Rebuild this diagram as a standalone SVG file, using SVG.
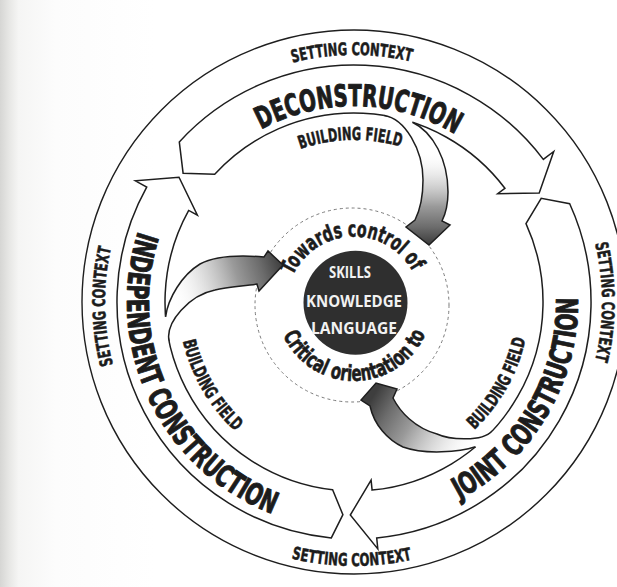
<svg xmlns="http://www.w3.org/2000/svg" xmlns:xlink="http://www.w3.org/1999/xlink" width="617" height="587" viewBox="0 0 617 587">
  <style>
    .band { fill: #ffffff; stroke: #1e1e1e; stroke-width: 1.5; stroke-linejoin: miter; }
    .edge { fill: none; stroke: #1e1e1e; stroke-width: 1.5; stroke-linejoin: miter; }
    .fillw { fill: #ffffff; stroke: none; }
    .ring { fill: none; stroke: #1e1e1e; stroke-width: 1.4; }
    .cond { font-family: "Liberation Sans Narrow", "DejaVu Sans Condensed", "Liberation Sans", sans-serif; font-weight: bold; fill: #1c1c1c; stroke: #1c1c1c; stroke-linejoin: round; }
    .ctx { font-size: 17.5px; stroke-width: 0.5; }
    .stage { font-size: 30px; stroke-width: 1; }
    .field { font-size: 18px; stroke-width: 0.5; }
    .orient { font-size: 22px; stroke-width: 0.6; }
    .core-label { font-family: "Open Sans", "DejaVu Sans", sans-serif; font-weight: bold; font-size: 16px; fill: #f2f2f2; text-anchor: middle; }
  </style>
  <defs>
    <linearGradient id="page" x1="0" y1="0" x2="1" y2="0">
      <stop offset="0" stop-color="#d6d6d4"/>
      <stop offset="0.014" stop-color="#e6e6e4"/>
      <stop offset="0.03" stop-color="#f5f5f4"/>
      <stop offset="0.09" stop-color="#fcfcfc"/>
      <stop offset="0.25" stop-color="#ffffff"/>
      <stop offset="1" stop-color="#ffffff"/>
    </linearGradient>
    <linearGradient id="g-decon" gradientUnits="userSpaceOnUse" x1="430" y1="150" x2="430" y2="244">
      <stop offset="0" stop-color="#ffffff" stop-opacity="0"/>
      <stop offset="0.3" stop-color="#d6d6d6" stop-opacity="0.7"/>
      <stop offset="0.6" stop-color="#9a9a9a"/>
      <stop offset="0.82" stop-color="#6c6c6c"/>
      <stop offset="1" stop-color="#3e3e3e"/>
    </linearGradient>
    <linearGradient id="g-joint" gradientUnits="userSpaceOnUse" x1="478" y1="448" x2="378" y2="388">
      <stop offset="0" stop-color="#ffffff" stop-opacity="0"/>
      <stop offset="0.3" stop-color="#d6d6d6" stop-opacity="0.7"/>
      <stop offset="0.6" stop-color="#9a9a9a"/>
      <stop offset="0.82" stop-color="#6c6c6c"/>
      <stop offset="1" stop-color="#3e3e3e"/>
    </linearGradient>
    <linearGradient id="g-indep" gradientUnits="userSpaceOnUse" x1="172" y1="302" x2="282" y2="265">
      <stop offset="0" stop-color="#ffffff" stop-opacity="0"/>
      <stop offset="0.3" stop-color="#d6d6d6" stop-opacity="0.7"/>
      <stop offset="0.6" stop-color="#9a9a9a"/>
      <stop offset="0.82" stop-color="#6c6c6c"/>
      <stop offset="1" stop-color="#3e3e3e"/>
    </linearGradient>

    <!-- baselines for curved labels, all around the centre (354,302) -->
    <path id="p-ctx-top" d="M139.0,180.4 A247,247 0 0 1 566.8,176.6"/>
    <path id="p-ctx-right" d="M478,87.2 A248,248 0 0 1 478,516.8"/>
    <path id="p-ctx-left" d="M233.3,519.8 A249,249 0 0 1 225.8,88.6"/>
    <path id="p-ctx-bottom" d="M124.2,432 A264,264 0 0 0 581.5,436"/>
    <path id="p-decon" d="M186.7,199.9 A196,196 0 0 1 526.1,208.2"/>
    <path id="p-joint" d="M352.4,526 A224,224 0 0 0 548.8,191.4"/>
    <path id="p-indep" d="M167.3,172.9 A227,227 0 0 0 335.6,528.3"/>
    <path id="p-bf-top" d="M211.9,224.2 A162,162 0 0 1 492.4,217.8"/>
    <path id="p-bf-left" d="M201.7,214.8 A175.5,175.5 0 0 0 354.6,477.5"/>
    <path id="p-bf-right" d="M355.5,477.5 A175.5,175.5 0 0 0 505.2,212.9"/>
    <path id="p-towards" d="M297,339 A67,67 0 1 1 413,335"/>
    <path id="p-critical" d="M286.1,264.6 A78,78 0 1 0 421.2,263.4"/>
  </defs>

  <!-- paper -->
  <rect x="0" y="0" width="617" height="587" fill="url(#page)"/>

  <!-- outer ring: setting context -->
  <g id="setting-context">
    <circle class="ring" cx="354" cy="302" r="272"/>
    <text class="cond ctx" text-anchor="middle"><textPath href="#p-ctx-top" startOffset="50%" textLength="120" lengthAdjust="spacingAndGlyphs">SETTING CONTEXT</textPath></text>
    <text class="cond ctx" text-anchor="middle"><textPath href="#p-ctx-right" startOffset="50%" textLength="118" lengthAdjust="spacingAndGlyphs">SETTING CONTEXT</textPath></text>
    <text class="cond ctx" text-anchor="middle"><textPath href="#p-ctx-left" startOffset="50%" textLength="118" lengthAdjust="spacingAndGlyphs">SETTING CONTEXT</textPath></text>
    <text class="cond ctx" text-anchor="middle"><textPath href="#p-ctx-bottom" startOffset="50%" textLength="122" lengthAdjust="spacingAndGlyphs">SETTING CONTEXT</textPath></text>
  </g>

  <!-- centre -->
  <g id="core">
    <circle cx="352" cy="305" r="97" fill="none" stroke="#7a7a7a" stroke-width="1" stroke-dasharray="3 3"/>
    <circle cx="355.5" cy="302.7" r="52" fill="#2f2f2f"/>
    <text class="core-label" x="350" y="278" textLength="42" lengthAdjust="spacingAndGlyphs">SKILLS</text>
    <text class="core-label" x="354" y="307" textLength="96" lengthAdjust="spacingAndGlyphs">KNOWLEDGE</text>
    <text class="core-label" x="354" y="334" textLength="86" lengthAdjust="spacingAndGlyphs">LANGUAGE</text>
    <text class="cond orient" text-anchor="middle"><textPath href="#p-towards" startOffset="50%" textLength="148" lengthAdjust="spacingAndGlyphs">Towards control of</textPath></text>
    <text class="cond orient" text-anchor="middle"><textPath href="#p-critical" startOffset="50%" textLength="180" lengthAdjust="spacingAndGlyphs">Critical orientation to</textPath></text>
  </g>

  <!-- stage arrows -->
  <g id="deconstruction">
    <path class="band" d="M179.3,141.9 A237,237 0 0 1 543.3,159.4 L553.7,151.5 L539.2,192.9 L497.7,193.7 L504.9,188.3 A189,189 0 0 0 214.7,174.3 L183.1,173.2 Z"/>
    <text class="cond stage" text-anchor="middle"><textPath href="#p-decon" startOffset="50%" textLength="203" lengthAdjust="spacingAndGlyphs">DECONSTRUCTION</textPath></text>
  </g>
  <g id="joint-construction">
    <path class="band" d="M569.7,203.7 A237,237 0 0 1 376.7,537.9 L377.8,548.9 L350.3,515 L371.1,480.2 L372.1,490.1 A189,189 0 0 0 526,223.6 L541.2,198.3 Z"/>
    <text class="cond stage" text-anchor="middle"><textPath href="#p-joint" startOffset="50%" textLength="246" lengthAdjust="spacingAndGlyphs">JOINT CONSTRUCTION</textPath></text>
  </g>
  <g id="independent-construction">
    <path class="band" d="M331.3,537.9 A237,237 0 0 1 146.7,187.1 L135.4,180.8 L179,177.2 L197.4,215.2 L188.7,210.4 A189,189 0 0 0 332.6,489.8 L342.9,514.7 Z"/>
    <text class="cond stage" text-anchor="middle"><textPath href="#p-indep" startOffset="50%" textLength="345" lengthAdjust="spacingAndGlyphs">INDEPENDENT CONSTRUCTION</textPath></text>
  </g>

  <!-- building-field arrows peeling off each stage towards the centre -->
  <g id="connectors">
    <g id="field-decon">
      <path class="fillw" d="M412.4,122.2 C433,132 448,160 448,192 C448,203 446,213 442,221 L450,225 L429,245 L406,227 L415,220 C420,210 423,195 423,180 C423,150 405.3,118.7 383.6,115.3 L384.2,111.4 A193,193 0 0 1 413.6,118.4 Z"/>
      <path fill="url(#g-decon)" d="M412.4,122.2 C433,132 448,160 448,192 C448,203 446,213 442,221 L450,225 L429,245 L406,227 L415,220 C420,210 423,195 423,180 C423,150 405.3,118.7 383.6,115.3 Z"/>
      <path class="edge" d="M412.4,122.2 C433,132 448,160 448,192 C448,203 446,213 442,221 L450,225 L429,245 L406,227 L415,220 C420,210 423,195 423,180 C423,150 405.3,118.7 383.6,115.3"/>
      <text class="cond field" text-anchor="middle"><textPath href="#p-bf-top" startOffset="50%" textLength="102" lengthAdjust="spacingAndGlyphs">BUILDING FIELD</textPath></text>
    </g>
    <g id="field-joint">
      <path class="fillw" d="M475.5,446.8 C460,452 425,455 403,447 C388,440 374,425 370,406 L361,400 L376,383 L397,389 L393,398 C400,412 415,428 437,434 C450,440 482,441.9 492.2,430.9 L495.2,433.6 A193,193 0 0 1 478.1,449.8 Z"/>
      <path fill="url(#g-joint)" d="M475.5,446.8 C460,452 425,455 403,447 C388,440 374,425 370,406 L361,400 L376,383 L397,389 L393,398 C400,412 415,428 437,434 C450,440 482,441.9 492.2,430.9 Z"/>
      <path class="edge" d="M475.5,446.8 C460,452 425,455 403,447 C388,440 374,425 370,406 L361,400 L376,383 L397,389 L393,398 C400,412 415,428 437,434 C450,440 482,441.9 492.2,430.9"/>
      <text class="cond field" text-anchor="middle"><textPath href="#p-bf-right" startOffset="50%" textLength="106" lengthAdjust="spacingAndGlyphs">BUILDING FIELD</textPath></text>
    </g>
    <g id="field-indep">
      <path class="fillw" d="M165.6,316.8 C168,298 182,275 200,264 C215,256 240,255 264,257 L268,251 L283,265 L259,291 L257,284 C245,286 228,287 215,290 C190,295 165,321.7 169.1,341.3 L165.2,342.1 A193,193 0 0 1 161.6,317.1 Z"/>
      <path fill="url(#g-indep)" d="M165.6,316.8 C168,298 182,275 200,264 C215,256 240,255 264,257 L268,251 L283,265 L259,291 L257,284 C245,286 228,287 215,290 C190,295 165,321.7 169.1,341.3 Z"/>
      <path class="edge" d="M165.6,316.8 C168,298 182,275 200,264 C215,256 240,255 264,257 L268,251 L283,265 L259,291 L257,284 C245,286 228,287 215,290 C190,295 165,321.7 169.1,341.3"/>
      <text class="cond field" text-anchor="middle"><textPath href="#p-bf-left" startOffset="50%" textLength="106" lengthAdjust="spacingAndGlyphs">BUILDING FIELD</textPath></text>
    </g>
  </g>
</svg>
